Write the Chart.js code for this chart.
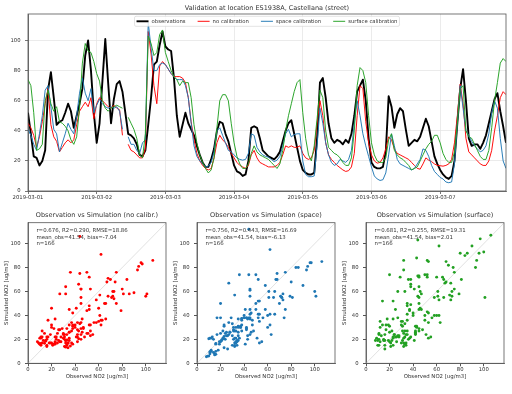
<!DOCTYPE html>
<html>
<head>
<meta charset="utf-8">
<title>Validation ES1938A</title>
<script src="https://cdn.jsdelivr.net/npm/chart.js@4.4.1/dist/chart.umd.min.js"></script>
<style>
  html, body { margin: 0; padding: 0; background: #fff; }
  body { position: relative; width: 512px; height: 394px; overflow: hidden; }
  canvas { position: absolute; }
</style>
</head>
<body>
<canvas id="series" width="512" height="205" style="left:0;top:0"></canvas>
<canvas id="scatter0" width="170" height="178" style="left:0;top:205px"></canvas>
<canvas id="scatter1" width="170" height="178" style="left:169px;top:205px"></canvas>
<canvas id="scatter2" width="170" height="178" style="left:338px;top:205px"></canvas>
<script>
// hourly values, 2019-03-01 00:00 .. 2019-03-07 23:00
const obs = [
  52, 38, 23, 22, 17, 20, 27, 67, 79, 62, 44, 46, 47, 52, 58, 53, 42, 50, 58, 68, 90, 100, 80, 52,
  32, 45, 73, 101, 72, 45, 61, 71, 73, 66, 52, 38, 37, 35, 31, 24, 23, 27, 44, 62, 84, 86, 97, 106,
  96, 94, 93, 75, 50, 36, 44, 52, 45, 41, 37, 30, 24, 19, 16, 16, 21, 28, 40, 46, 45, 38, 33, 25,
  17, 13, 12, 10, 11, 20, 42, 43, 42, 35, 27, 25, 23, 22, 21, 23, 26, 33, 40, 45, 47, 38, 29, 20,
  14, 12, 11, 11, 12, 35, 72, 75, 62, 45, 35, 32, 34, 33, 31, 34, 32, 38, 50, 66, 70, 74, 60, 35,
  19, 16, 15, 15, 16, 26, 63, 56, 42, 51, 55, 53, 41, 30, 32, 34, 33, 36, 42, 48, 43, 33, 23, 18,
  14, 11, 9, 8, 10, 20, 45, 68, 81, 60, 35, 30, 31, 31, 28, 32, 37, 45, 53, 61, 65, 53, 43, 32
];
const noCalib = [
  45, 42, 37, 29, 36, 46, 58, 68, 44, 36, 33, 26, 29, 32, 34, 32, 34, 44, 53, 56, 59, 56, 62, 48,
  58, 62, 60, 58, 56, 55, 57, 55, 54, 37, null, 31, 27, 26, 24, 22, 22, 28, 106, 91, 70, 58, 83, 86,
  84, 81, 78, 76, 76, 76, 75, 72, 62, 46, 34, 25, 20, 17, 15, 14, 15, 22, 32, 37, 34, 32, 29, 25,
  22, 19, 17, 16, 15, 17, 24, 27, 22, 19, 18, 17, 16, 16, 16, 17, 19, 24, 30, 29, 30, 29, 29, 30,
  25, 22, 21, 22, 27, 45, 60, 50, 32, 24, 21, 19, 17, 15.5, 14, 13, 13.5, 16, 25, 50, 70, 68, 46, 32,
  24, 20, 18.5, 19, 22, 28, 36, 34, 28, 25, 24, 23, 22, 21, 19, 17, 15, 14.5, 18, 22, 20.5, 19.5, 18, 17,
  16.8, 16.5, 17, 18, 21, 32, 50, 71, 58, 35, 26, 24, 22, 20, 18, 17, 17, 20, 27, 40, 50, 62, 66, 64
];
const spaceCalib = [
  41, 37, 31, 27, 38, 50, 67, 70, 56, 41, 38, 26, 32, 38, 45, 41, 38, 50, 65, 75, 65, 60, 68, 52,
  57, 61, 58, 56, 55, 56, 55, 56, 53, 41, null, 36, 31, 31, 27, 25, 32, 34, 112, 95, 80, 80, 84, 85,
  84, 81, 78, 76, 74, 74, 74, 70, 62, 45, 30, 23, 20, 18, 16, 16.5, 19, 26, 40, 42, 37, 32, 27, 26,
  24, 22, 21, 20.5, 21, 25, 38, 37, 29, 26, 24, 23, 22.5, 21, 19.5, 20.5, 23, 30, 38, 41, 36, 37.5, 38, 38,
  20, 11, 9.5, 9.5, 10, 30, 55, 45, 32, 24, 19, 17, 18, 21, 20, 19, 21, 27, 45, 60, 50, 38, 30, 23,
  16, 10, 8, 7, 7.5, 12, 24, 38, 30, 21, 18, 17, 16, 15, 14, 15, 18, 21, 28, 27, 23, 17, 13, 11,
  9, 8, 6, 5.5, 6, 18, 45, 70, 55, 40, 37, 33, 30, 28, 26, 27, 30, 38, 52, 60, 55, 35, 20, 15
];
const surfaceCalib = [
  74, 70, 52, 27, 28, 31, 60, 67, 58, 53, 56, 46, 45, 43, 40, 34, 31, 36, 55, 85, 98, 93, 92, 86,
  78, 73, 60, 55, 53, 55, 56, 57, 56, 55, null, 49, 45, 41, 35, 24, 22, 38, 103, 98, 90, 92, 104, 107,
  92, 86, 80, 76, 74, 70, 73, 72, 72, 62, 44, 32, 24, 19, 15, 12, 14, 22, 42, 60, 64, 64, 60, 45,
  32, 23, 18, 15, 15, 18, 25, 30, 26, 24, 23, 22, 21, 19, 17, 15, 18, 27, 40, 50, 58, 66, 72, 74,
  52, 35, 24, 20, 30, 48, 67, 62, 40, 29, 27, 25, 24, 22, 19, 17, 17, 22, 40, 70, 82, 80, 72, 50,
  32, 24, 20, 19, 19, 22, 34, 38, 27, 24, 22, 21, 19, 17, 14, 15, 16, 20, 24, 28, 31, 33, 37, 37,
  32, 25, 21, 19, 19, 26, 45, 68, 70, 40, 36, 35, 31, 27, 23, 21, 21, 27, 42, 60, 72, 85, 88, 86
];

const dayLabels = ['2019-03-01', '2019-03-02', '2019-03-03', '2019-03-04', '2019-03-05', '2019-03-06', '2019-03-07'];
const seriesNames = ['observations', 'no calibration', 'space calibration', 'surface calibration'];
const panelTitles = [
  'Observation vs Simulation (no calibr.)',
  'Observation vs Simulation (space)',
  'Observation vs Simulation (surface)'
];
const statsText = [
  ['r=0.676, R2=0.290, RMSE=18.86', 'mean_obs=41.54, bias=-7.04', 'n=166'],
  ['r=0.756, R2=0.443, RMSE=16.69', 'mean_obs=41.54, bias=-6.13', 'n=166'],
  ['r=0.681, R2=0.255, RMSE=19.31', 'mean_obs=41.54, bias=2.01', 'n=166']
];
const oneToOne = [0, 120];
const mainTitle = 'Validation at location ES1938A, Castellana (street)';

const FONT = 'DejaVu Sans';
const TEXT = '#333';
const AXIS = '#555';
const colors = ['#000000', '#ff0000', '#1f77b4', '#22a022'];
const widths = [1.9, 0.95, 0.95, 0.95];

Chart.defaults.font.family = FONT;
Chart.defaults.color = TEXT;

const frame = {
  id: 'frame',
  afterDraw(chart) {
    const {ctx, chartArea: a} = chart;
    ctx.save();
    ctx.strokeStyle = AXIS;
    ctx.lineWidth = 0.8;
    ctx.strokeRect(a.left, a.top, a.right - a.left, a.bottom - a.top);
    ctx.restore();
  }
};

// matplotlib style legend inside the axes, on top of the lines
const seriesLegend = {
  id: 'seriesLegend',
  afterDatasetsDraw(chart) {
    const {ctx, chartArea} = chart;
    const sets = chart.data.datasets;
    const handle = 12, gap = 3, colGap = 12, pad = 2, h = 10;
    ctx.save();
    ctx.font = '5.3px "' + FONT + '"';
    const tw = sets.map(d => ctx.measureText(d.label).width);
    const total = pad * 2 + tw.reduce((s, w) => s + handle + gap + w, 0) + colGap * (sets.length - 1);
    const x0 = (chartArea.left + chartArea.right) / 2 - total / 2;
    const y0 = chartArea.top + 2.3;
    ctx.fillStyle = 'rgba(255,255,255,0.85)';
    ctx.strokeStyle = '#d0d0d0';
    ctx.lineWidth = 0.6;
    ctx.beginPath();
    if (ctx.roundRect) ctx.roundRect(x0, y0, total, h, 1.5); else ctx.rect(x0, y0, total, h);
    ctx.fill();
    ctx.stroke();
    let x = x0 + pad;
    const yc = y0 + h / 2;
    sets.forEach((d, i) => {
      ctx.strokeStyle = d.borderColor;
      ctx.lineWidth = d.borderWidth;
      ctx.beginPath();
      ctx.moveTo(x, yc);
      ctx.lineTo(x + handle, yc);
      ctx.stroke();
      ctx.fillStyle = TEXT;
      ctx.textBaseline = 'middle';
      ctx.textAlign = 'left';
      ctx.fillText(d.label, x + handle + gap, yc);
      x += handle + gap + tw[i] + colGap;
    });
    ctx.restore();
  }
};

const statsNote = {
  id: 'statsNote',
  afterDatasetsDraw(chart, args, opts) {
    const {ctx, chartArea: a} = chart;
    ctx.save();
    ctx.font = '5.4px "' + FONT + '"';
    ctx.fillStyle = TEXT;
    ctx.textBaseline = 'middle';
    ctx.textAlign = 'left';
    (opts.lines || []).forEach((t, i) => ctx.fillText(t, a.left + 8.4, a.top + 8 + i * 6.5));
    ctx.restore();
  }
};

const tickFont = {family: FONT, size: 5.3};

const seriesData = [obs, noCalib, spaceCalib, surfaceCalib];
new Chart(document.getElementById('series'), {
  type: 'line',
  data: {
    datasets: seriesData.map((vals, k) => ({
      label: seriesNames[k],
      data: vals.map((v, i) => ({x: i, y: v})),
      borderColor: colors[k],
      borderWidth: widths[k],
      pointRadius: 0,
      tension: 0,
      spanGaps: false,
      borderJoinStyle: 'round',
      order: 4 - k
    }))
  },
  options: {
    responsive: false,
    animation: false,
    devicePixelRatio: 1,
    layout: {padding: {left: 0, right: 6, top: 0, bottom: 0}},
    plugins: {
      legend: {display: false},
      tooltip: {enabled: false},
      title: {
        display: true, text: mainTitle, fullSize: false, color: TEXT,
        font: {family: FONT, size: 6.5, weight: 'normal'},
        padding: {top: 4, bottom: 2.2}
      }
    },
    scales: {
      x: {
        type: 'linear', min: 0, max: 167,
        afterFit: s => { s.height = 14; },
        ticks: {
          stepSize: 24, includeBounds: false, autoSkip: false, maxRotation: 0,
          font: tickFont, color: TEXT, padding: 0.5,
          callback: v => dayLabels[v / 24]
        },
        grid: {color: '#e6e6e6', lineWidth: 0.8, tickColor: AXIS, tickLength: 3},
        border: {color: AXIS, width: 0.8}
      },
      y: {
        min: 0, max: 117.6,
        afterFit: s => { s.width = 28; },
        ticks: {stepSize: 20, includeBounds: false, font: tickFont, color: TEXT, padding: 4.5},
        grid: {color: '#e6e6e6', lineWidth: 0.8, tickColor: AXIS, tickLength: 3},
        border: {color: AXIS, width: 0.8}
      }
    }
  },
  plugins: [seriesLegend, frame]
});

const models = [noCalib, spaceCalib, surfaceCalib];
models.forEach((sim, k) => {
  const pairs = obs.map((o, i) => ({x: o, y: sim[i]})).filter(p => p.y !== null);
  new Chart(document.getElementById('scatter' + k), {
    type: 'scatter',
    data: {
      datasets: [
        {data: pairs, backgroundColor: colors[k + 1], borderWidth: 0, pointRadius: 1.45, order: 1},
        {
          data: oneToOne.map(v => ({x: v, y: v})), showLine: true,
          borderColor: '#d4d4d4', borderWidth: 0.7, pointRadius: 0, order: 2
        }
      ]
    },
    options: {
      responsive: false,
      animation: false,
      devicePixelRatio: 1,
      layout: {padding: {left: 0, right: 3, top: 0, bottom: 0}},
      plugins: {
        legend: {display: false},
        tooltip: {enabled: false},
        title: {
          display: true, text: panelTitles[k], fullSize: false, color: TEXT,
          font: {family: FONT, size: 6.5, weight: 'normal'},
          padding: {top: 6.8, bottom: 3.1}
        },
        statsNote: {lines: statsText[k]}
      },
      scales: {
        x: {
          type: 'linear', min: 0, max: 117.2,
          afterFit: s => { s.height = 19.7; },
          ticks: {stepSize: 20, includeBounds: false, font: tickFont, color: TEXT, padding: 0},
          grid: {drawOnChartArea: false, tickColor: AXIS, tickLength: 3},
          border: {color: AXIS, width: 0.8},
          title: {
            display: true, text: 'Observed NO2 [ug/m3]', color: TEXT,
            font: {family: FONT, size: 5.4}, padding: {top: 0, bottom: 3.1}
          }
        },
        y: {
          type: 'linear', min: 0, max: 117.5,
          afterFit: s => { s.width = 28; },
          ticks: {stepSize: 20, includeBounds: false, font: tickFont, color: TEXT, padding: 4.5},
          grid: {drawOnChartArea: false, tickColor: AXIS, tickLength: 3},
          border: {color: AXIS, width: 0.8},
          title: {
            display: true, text: 'Simulated NO2 [ug/m3]', color: TEXT,
            font: {family: FONT, size: 5.4}, padding: {top: 3.8, bottom: 0}
          }
        }
      }
    },
    plugins: [statsNote, frame]
  });
});
</script>
</body>
</html>
